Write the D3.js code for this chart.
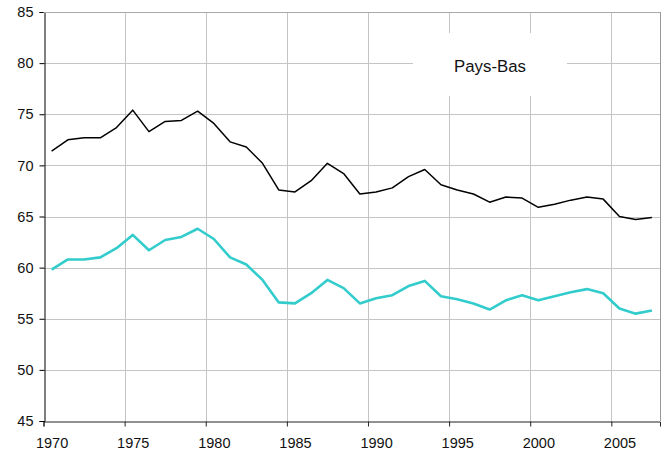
<!DOCTYPE html>
<html>
<head>
<meta charset="utf-8">
<script src="https://cdn.jsdelivr.net/npm/d3@7"></script>
<style>
  body { margin: 0; background: #fff; }
  svg text { font-family: "Liberation Sans", Arial, sans-serif; fill: #111; }
</style>
</head>
<body>
<div id="chart"></div>
<script>
const years = d3.range(1970, 2008)
const seriesBlack = [
  71.4, 72.5, 72.7, 72.7, 73.7, 75.4, 73.3, 74.3, 74.4, 75.3,
  74.1, 72.3, 71.8, 70.2, 67.6, 67.4, 68.5, 70.2, 69.2, 67.2,
  67.4, 67.8, 68.9, 69.6, 68.1, 67.6, 67.2, 66.4, 66.9, 66.8,
  65.9, 66.2, 66.6, 66.9, 66.7, 65.0, 64.7, 64.9
]
const seriesTeal = [
  59.8, 60.8, 60.8, 61.0, 61.9, 63.2, 61.7, 62.7, 63.0, 63.8,
  62.8, 61.0, 60.3, 58.8, 56.6, 56.5, 57.5, 58.8, 58.0, 56.5,
  57.0, 57.3, 58.2, 58.7, 57.2, 56.9, 56.5, 55.9, 56.8, 57.3,
  56.8, 57.2, 57.6, 57.9, 57.5, 56.0, 55.5, 55.8
]
const yTicks = [45, 50, 55, 60, 65, 70, 75, 80, 85]
const xTicks = [1970, 1975, 1980, 1985, 1990, 1995, 2000, 2005]
const label = "Pays-Bas"

const width = 665, height = 456
const margin = { top: 12, right: 5, bottom: 35, left: 43.5 }

const svg = d3.select("#chart").append("svg")
  .attr("width", width)
  .attr("height", height)

const x = d3.scaleLinear()
  .domain([1970, 2008])
  .range([margin.left, width - margin.right])

const y = d3.scaleLinear()
  .domain([45, 85])
  .range([height - margin.bottom, margin.top])

// grid
svg.append("g")
  .selectAll("line.h")
  .data(yTicks.slice(1))
  .join("line")
  .attr("x1", x(1970)).attr("x2", x(2008))
  .attr("y1", d => Math.round(y(d)) + 0.5).attr("y2", d => Math.round(y(d)) + 0.5)
  .attr("stroke", "#c4c4c4")

svg.append("g")
  .selectAll("line.v")
  .data(xTicks.slice(1).concat([2008]))
  .join("line")
  .attr("x1", d => Math.round(x(d)) + 0.5).attr("x2", d => Math.round(x(d)) + 0.5)
  .attr("y1", y(85)).attr("y2", y(45))
  .attr("stroke", d => d === 2008 ? "#999" : "#c4c4c4")

// label box over the grid
const bx = 413, by = 33, bw = 154, bh = 63
svg.append("rect")
  .attr("x", bx).attr("y", by).attr("width", bw).attr("height", bh)
  .attr("fill", "#fff")
svg.append("text")
  .attr("x", bx + bw / 2).attr("y", 72)
  .attr("text-anchor", "middle")
  .attr("font-size", 16.8)
  .text(label)

// axes
const yAxis = d3.axisLeft(y).tickValues(yTicks).tickSize(5).tickPadding(6)
const gy = svg.append("g")
  .attr("transform", `translate(${Math.round(margin.left) + 0.5},0)`)
  .call(yAxis)
gy.select(".domain").attr("stroke", "#000")
gy.selectAll(".tick line").attr("stroke", "#000")
gy.selectAll("text").attr("font-size", 14.5).attr("fill", "#111")
  .attr("font-family", "Liberation Sans, Arial, sans-serif")

// labels sit on the category centre (year + 0.5), ticks on the year boundary
const halfYear = x(1970.5) - x(1970)
const xAxis = d3.axisBottom(x).tickValues(xTicks).tickFormat(d3.format("d")).tickSize(5).tickPadding(11)
const gx = svg.append("g")
  .attr("transform", `translate(0,${Math.round(y(45)) + 0.5})`)
  .call(xAxis)
gx.select(".domain").attr("stroke", "#222")
gx.selectAll(".tick line").attr("stroke", "#222")
gx.selectAll("text").attr("font-size", 14.5).attr("fill", "#111")
  .attr("x", halfYear)
  .attr("font-family", "Liberation Sans, Arial, sans-serif")

// top border
svg.append("line")
  .attr("x1", x(1970)).attr("x2", x(2008))
  .attr("y1", Math.round(y(85)) + 0.5).attr("y2", Math.round(y(85)) + 0.5)
  .attr("stroke", "#aaa")

// series
const line = d3.line()
  .x((d, i) => x(years[i] + 0.5))
  .y(d => y(d))

svg.append("path")
  .datum(seriesTeal)
  .attr("fill", "none")
  .attr("stroke", "#33cccc")
  .attr("stroke-width", 2.6)
  .attr("stroke-linejoin", "round")
  .attr("d", line)

svg.append("path")
  .datum(seriesBlack)
  .attr("fill", "none")
  .attr("stroke", "#000")
  .attr("stroke-width", 1.5)
  .attr("stroke-linejoin", "round")
  .attr("d", line)
</script>
</body>
</html>
